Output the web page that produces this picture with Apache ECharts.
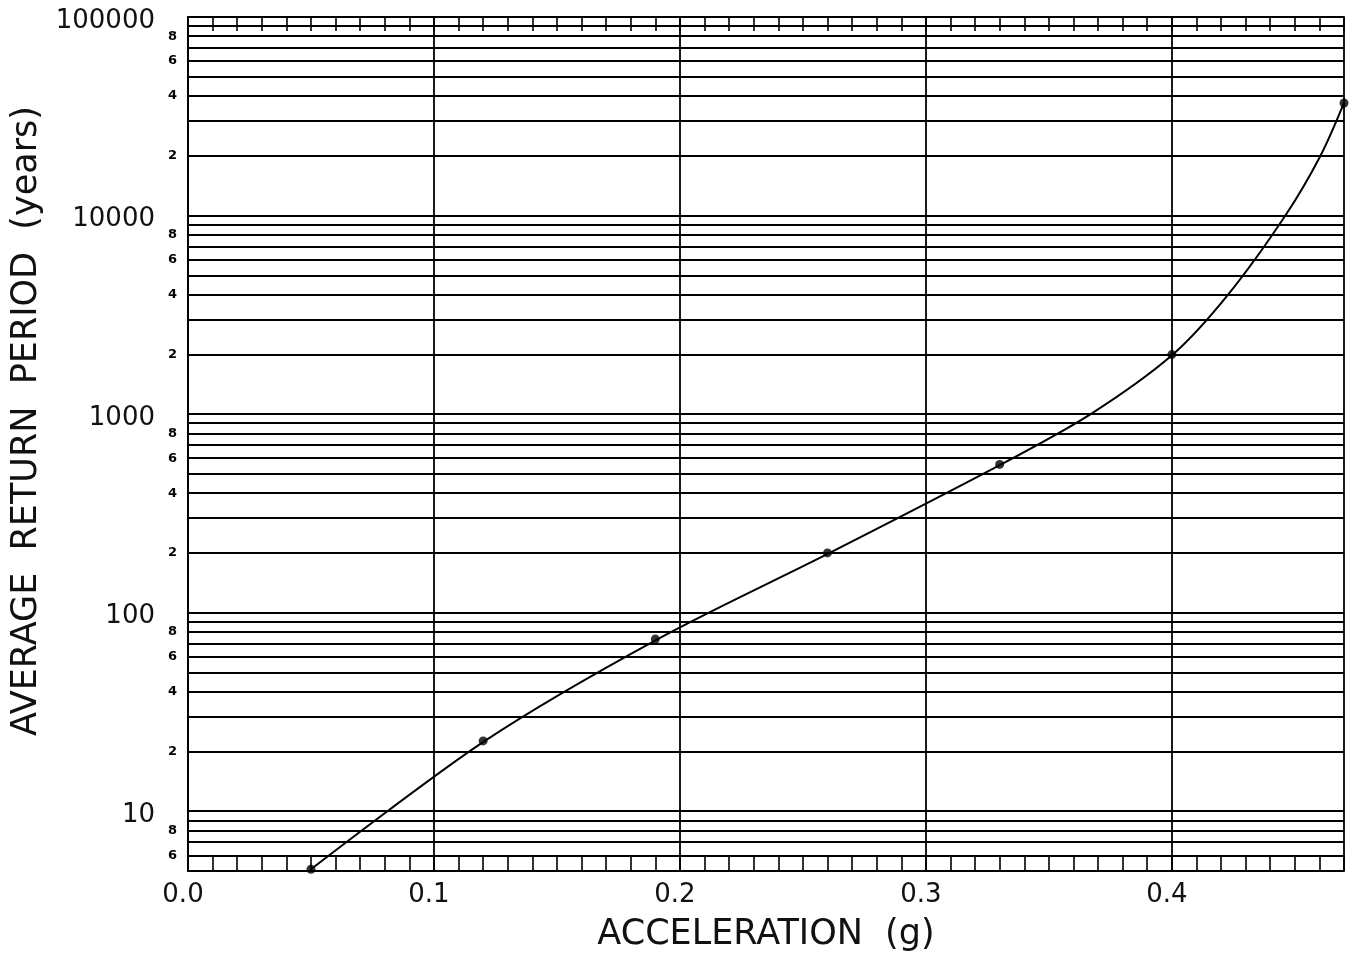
<!DOCTYPE html>
<html><head><meta charset="utf-8">
<script src="https://cdn.jsdelivr.net/npm/echarts@6/dist/echarts.min.js"></script>
<style>html,body{margin:0;padding:0;background:#fff}#c{width:1352px;height:964px}</style>
</head><body><div id="c"></div>
<script>
// Tick labels
const accelTickLabels = [0.0, 0.1, 0.2, 0.3, 0.4];
const periodMajorLabels = [10, 100, 1000, 10000, 100000];
const periodMinorDigits = [2, 4, 6, 8];

// Marked points (acceleration g, return period years)
const markerAccel  = [0.05, 0.12, 0.19, 0.26, 0.33, 0.40, 0.47];
const markerPeriod = [5.1, 22.6, 73.6, 200, 558, 1995, 36900];

// Points
const curveAccel  = [0.05, 0.1207, 0.191, 0.2609, 0.3306, 0.367, 0.4004, 0.4227, 0.4463, 0.4606, 0.47];
const curvePeriod = [5.1, 22.6, 73.6, 200, 558, 1000, 1995, 3970, 10060, 20180, 36900];

const yMin = 5, yMax = 100000, xMin = 0, xMax = 0.47;

const gridValues = [];
[1, 10, 100, 1000, 10000].forEach(d => {
  for (let k = 1; k <= 9; k++) { const v = k * d; if (v > yMin && v < yMax) gridValues.push(v); }
});
gridValues.push(yMax);

const labelValues = periodMajorLabels.slice();
[1, 10, 100, 1000, 10000].forEach(d => {
  periodMinorDigits.forEach(k => { const v = k * d; if (v > yMin && v < yMax) labelValues.push(v); });
});

function yLabel(v) {
  const e = Math.floor(Math.log10(v) + 1e-9);
  const k = Math.round(v / Math.pow(10, e));
  return k === 1 ? '{big|' + Math.round(v) + '}' : '{small|' + k + '}';
}

const FONT = 'DejaVu Sans';
const INK = '#000';

const chart = echarts.init(document.getElementById('c'), null, { renderer: 'canvas' });
chart.setOption({
  backgroundColor: '#fff',
  animation: false,
  grid: { left: 188, right: 8, top: 17, bottom: 93, containLabel: false },
  xAxis: [{
    type: 'value', min: xMin, max: xMax, interval: 0.1, position: 'bottom',
    name: 'ACCELERATION  (g)', nameLocation: 'middle', nameGap: 46,
    nameTextStyle: { fontFamily: FONT, fontSize: 35, color: '#111' },
    axisLine: { show: true, lineStyle: { color: INK, width: 2 } },
    axisTick: { show: true, inside: true, length: 16, lineStyle: { color: INK, width: 1.6 } },
    minorTick: { show: true, splitNumber: 10, length: 16, lineStyle: { color: INK, width: 1.6 } },
    splitLine: { show: true, lineStyle: { color: INK, width: 1.8 } },
    axisLabel: {
      show: true, margin: 11, fontFamily: FONT, fontSize: 26, color: '#111',
      padding: [0, 10, 0, 0],
      customValues: accelTickLabels,
      formatter: v => Number(v).toFixed(1)
    }
  }, {
    type: 'value', min: xMin, max: xMax, interval: 0.1, position: 'top',
    axisLine: { show: true, lineStyle: { color: INK, width: 2 } },
    axisTick: { show: true, inside: true, length: 14, lineStyle: { color: INK, width: 1.6 } },
    minorTick: { show: true, splitNumber: 10, length: 14, lineStyle: { color: INK, width: 1.6 } },
    splitLine: { show: false },
    axisLabel: { show: false }
  }],
  yAxis: [{
    type: 'log', min: yMin, max: yMax, position: 'left',
    name: 'AVERAGE  RETURN  PERIOD  (years)', nameLocation: 'middle', nameGap: 140,
    nameTextStyle: { fontFamily: FONT, fontSize: 35, color: '#111', padding: [0, 0, 0, 46] },
    axisLine: { show: true, lineStyle: { color: INK, width: 2 } },
    axisTick: { show: false, customValues: gridValues },
    splitLine: { show: true, lineStyle: { color: INK, width: 1.8 } },
    axisLabel: {
      show: true, margin: 11, color: INK,
      customValues: labelValues,
      formatter: yLabel,
      rich: {
        big: { fontFamily: FONT, fontSize: 26, color: '#111', padding: [8, 22, 0, 0] },
        small: { fontFamily: FONT, fontSize: 13, fontWeight: 'bold', color: INK }
      }
    }
  }, {
    type: 'log', min: yMin, max: yMax, position: 'right',
    axisLine: { show: true, lineStyle: { color: INK, width: 2 } },
    axisTick: { show: false }, splitLine: { show: false }, axisLabel: { show: false }
  }],
  series: [{
    type: 'line', name: 'curve', xAxisIndex: 0, yAxisIndex: 0,
    data: curveAccel.map((x, i) => [x, curvePeriod[i]]),
    smooth: 0.3, showSymbol: false, symbol: 'none',
    lineStyle: { color: INK, width: 2 }, z: 5
  }, {
    type: 'scatter', name: 'points', xAxisIndex: 0, yAxisIndex: 0,
    data: markerAccel.map((x, i) => [x, markerPeriod[i]]),
    symbol: 'circle', symbolSize: 9, clip: false,
    itemStyle: { color: INK }, z: 6
  }]
});
</script></body></html>
